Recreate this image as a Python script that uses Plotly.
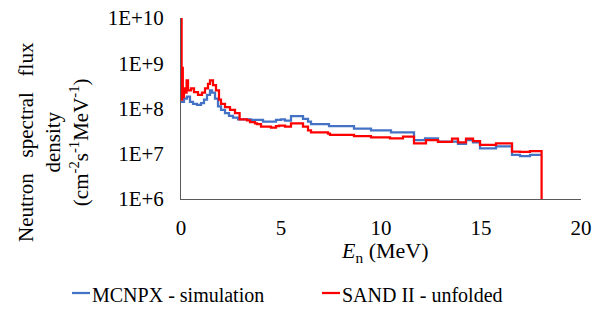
import plotly.graph_objects as go

# ---- data ----
mcnpx_energy = [0, 0.15, 0.3, 0.45, 0.6, 0.8, 1.0, 1.15, 1.3, 1.45, 1.55, 1.7, 1.85, 2.0, 2.2,
                2.4, 2.6, 2.85, 3.5, 4.1, 4.75, 5.0, 5.2, 5.5, 6.1, 6.35, 6.5, 7.4, 8.65, 9.5,
                10.5, 11.65, 12.2, 12.85, 13.85, 14.25, 14.6, 14.95, 15.75, 16.55, 16.95, 17.45, 18.03]
mcnpx_flux = [1.41e8, 1.66e8, 1.82e8, 1.41e8, 1.26e8, 1.20e8, 1.32e8, 1.58e8, 2.0e8, 2.5e8, 2.24e8,
              1.66e8, 1.12e8, 9.3e7, 7.9e7, 6.9e7, 6.3e7, 5.75e7, 5.6e7, 5.1e7, 5.6e7, 5.75e7, 5.4e7,
              6.8e7, 5.9e7, 5.1e7, 4.5e7, 4.1e7, 3.6e7, 3.3e7, 2.95e7, 2.0e7, 2.2e7, 1.86e7, 1.66e7,
              2.0e7, 1.78e7, 1.32e7, 1.45e7, 9.5e6, 8.9e6, 9.5e6, 9.5e6]

sand_energy = [0, 0.03, 0.06, 0.09, 0.15, 0.22, 0.28, 0.35, 0.5, 0.65, 0.85, 1.05, 1.2, 1.35, 1.45,
               1.6, 1.75, 1.9, 2.0, 2.2, 2.45, 2.7, 2.93, 3.3, 3.45, 3.7, 3.8, 4.0, 4.5, 4.75, 4.9,
               5.2, 5.5, 6.1, 6.35, 6.5, 7.35, 7.45, 8.65, 9.5, 10.45, 11.1, 11.65, 12.25, 12.85,
               13.55, 13.85, 14.25, 14.6, 14.95, 15.75, 16.55, 16.95, 17.45, 18.03]
sand_flux = [9.5e9, 1.58e8, 7.9e8, 1.78e8, 2.8e8, 2.24e8, 4.2e8, 2.5e8, 2.8e8, 2.3e8, 2.0e8, 2.24e8,
             2.8e8, 3.5e8, 4.2e8, 3.3e8, 2.5e8, 1.58e8, 1.26e8, 1.07e8, 9.3e7, 7.9e7, 5.75e7, 5.5e7,
             5.0e7, 4.7e7, 4.5e7, 4.0e7, 3.8e7, 4.1e7, 4.2e7, 4.0e7, 4.7e7, 4.0e7, 3.3e7, 2.95e7,
             2.8e7, 2.6e7, 2.45e7, 2.3e7, 2.2e7, 2.4e7, 1.7e7, 2.0e7, 1.82e7, 2.15e7, 1.78e7, 2.15e7,
             1.9e7, 1.58e7, 1.7e7, 1.12e7, 1.1e7, 1.15e7, 1.0e6]

x_tick_vals = [0, 5, 10, 15, 20]
x_tick_text = ["0", "5", "10", "15", "20"]
y_tick_vals = [1e6, 1e7, 1e8, 1e9, 1e10]
y_tick_text = ["1E+6", "1E+7", "1E+8", "1E+9", "1E+10"]

series_names = ["MCNPX - simulation", "SAND II - unfolded"]
series_colors = ["#4472C4", "#FF0000"]

FONT = "Liberation Serif"

fig = go.Figure()
fig.add_trace(go.Scatter(x=mcnpx_energy, y=mcnpx_flux, mode="lines", line_shape="hv",
                         name=series_names[0], line=dict(color=series_colors[0], width=2.25)))
fig.add_trace(go.Scatter(x=sand_energy, y=sand_flux, mode="lines", line_shape="hv",
                         name=series_names[1], line=dict(color=series_colors[1], width=2.25)))

W, H = 594, 314
L, T = 181, 18
R = W - 581
B = H - 199
pw, ph = W - L - R, H - T - B

def px_to_paper(px, py):
    return (px - L) / pw, (H - B - py) / ph

fig.update_layout(
    width=W, height=H,
    margin=dict(l=L, r=R, t=T, b=B, pad=0, autoexpand=False),
    paper_bgcolor="white", plot_bgcolor="white",
    showlegend=False,
    font=dict(family=FONT, color="#000000", size=21),
)
fig.update_xaxes(range=[0, 20], tickvals=x_tick_vals, ticktext=x_tick_text, automargin=False,
                 showgrid=False, zeroline=False, showline=True, linecolor="#595959", linewidth=1,
                 ticks="", ticklabelstandoff=10, ticklabeloverflow="allow",
                 tickfont=dict(size=21, family=FONT))
fig.update_yaxes(type="log", range=[6, 10], tickvals=y_tick_vals, ticktext=y_tick_text, automargin=False,
                 showgrid=False, zeroline=False, showline=True, linecolor="#595959", linewidth=1,
                 ticks="", ticklabelstandoff=12, ticklabeloverflow="allow",
                 tickfont=dict(size=21, family=FONT))

annots = []
shapes = []
# y-axis title
xa, ya = px_to_paper(53, 142)
sp = "&nbsp;&nbsp; "
annots.append(dict(text=f"Neutron{sp}spectral{sp}flux<br>density<br>(cm<sup>-2</sup>s<sup>-1</sup>MeV<sup>-1</sup>)",
                   xref="paper", yref="paper", x=xa, y=ya, xanchor="center", yanchor="middle",
                   textangle=-90, showarrow=False, font=dict(size=21, family=FONT)))
# x-axis title
xa, ya = px_to_paper(385, 252)
annots.append(dict(text="<i>E</i><sub>n</sub> (MeV)", xref="paper", yref="paper", x=xa, y=ya,
                   xanchor="center", yanchor="middle", showarrow=False, font=dict(size=22, family=FONT)))
# legend entries (swatch + label)
for (px0, px1, name, color) in [(72, 90, series_names[0], series_colors[0]),
                                (322, 340, series_names[1], series_colors[1])]:
    x0, yl = px_to_paper(px0, 293)
    x1, _ = px_to_paper(px1, 293)
    shapes.append(dict(type="line", xref="paper", yref="paper", x0=x0, x1=x1, y0=yl, y1=yl,
                       line=dict(color=color, width=2.25)))
    xa, ya = px_to_paper(px1, 295)
    annots.append(dict(text=name, xref="paper", yref="paper",
                       x=xa, y=ya, xanchor="left", yanchor="middle", showarrow=False,
                       font=dict(size=20, family=FONT)))
fig.update_layout(annotations=annots, shapes=shapes)

fig.write_html("out.html",
               config={"displayModeBar": False},
               post_script="document.body.style.margin='0';document.body.style.overflow='hidden';")
